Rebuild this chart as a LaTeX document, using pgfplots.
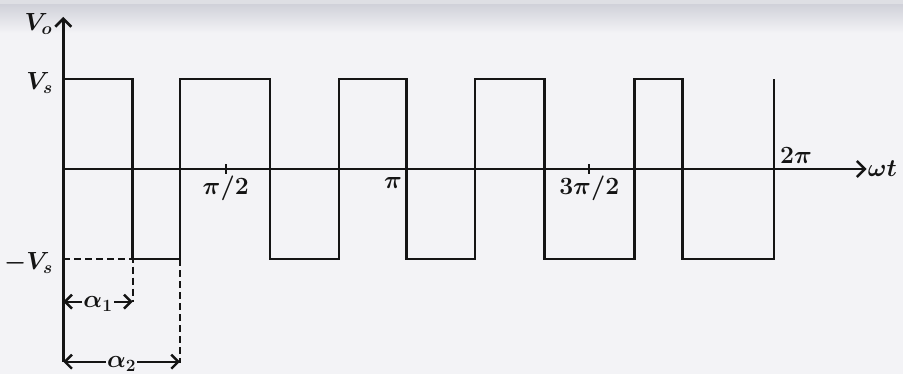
\documentclass[border=0pt]{standalone}
\usepackage{pgfplots}
\pgfplotsset{compat=1.18}
\usetikzlibrary{arrows.meta}
\definecolor{bg}{RGB}{243,243,246}
\definecolor{band}{RGB}{208,209,217}
\definecolor{ink}{RGB}{20,20,20}
\begin{document}
\begin{tikzpicture}[font=\fontsize{25}{29}\selectfont\boldmath]
\path[use as bounding box, fill=bg] (-63.3bp,-205bp) rectangle (839.7bp,169bp);
\shade[top color=band, bottom color=bg] (-63.3bp,136bp) rectangle (839.7bp,165bp);
\fill[band!60!bg] (-63.3bp,165bp) rectangle (839.7bp,169bp);
\begin{axis}[
  at={(0,0)}, anchor=origin,
  x=113.11bp, y=90bp,
  xmin=0, xmax=7.103, ymin=-2.144, ymax=1.69,
  axis lines=middle,
  axis line style={ink, line width=2.6pt, -{Straight Barb[length=8bp,width=16bp,line width=2.6pt]}},
  clip=false,
  xtick={1.436,4.650}, xticklabels={$\pi/2$,$3\pi/2$},
  ytick={1,-1}, yticklabels={$V_s$,$-V_s$},
  major tick length=10bp, tick align=center,
  xtick style={ink, line width=1.8pt},
  ytick style={draw=none},
  tick label style={font=\fontsize{25}{29}\selectfont\boldmath, text=ink},
  xticklabel style={anchor=north, yshift=2bp},
  yticklabel style={anchor=east, xshift=-2bp, yshift=-4bp},
]
\addplot[ink, line width=2.6pt, mark=none] coordinates {
 (0,1) (0.6136,1) (0.6136,-1) (1.0317,-1) (1.0317,1) (1.8274,1) (1.8274,-1)
 (2.4374,-1) (2.4374,1) (3.0360,1) (3.0360,-1) (3.6399,-1) (3.6399,1)
 (4.2525,1) (4.2525,-1) (5.0482,-1) (5.0482,1) (5.4761,1) (5.4761,-1)
 (6.2832,-1) (6.2832,1)
};
\addplot[ink, line width=2pt, dash pattern=on 7bp off 4bp, mark=none] coordinates {
 (0,-1) (0.6136,-1) (0.6136,-1.474)
};
\addplot[ink, line width=2pt, dash pattern=on 7bp off 4bp, mark=none] coordinates {
 (1.0317,-1) (1.0317,-2.15)
};
\addplot[ink, line width=2.3pt, mark=none, {Straight Barb[length=7bp,width=14bp,line width=2.4pt]}-{Straight Barb[length=7bp,width=14bp,line width=2.4pt]}] coordinates {
 (0,-1.474) (0.6136,-1.474)
} node[pos=0.5, fill=bg, inner sep=1pt, text=ink, yshift=-2bp] {$\alpha_1$};
\addplot[ink, line width=2.3pt, mark=none, {Straight Barb[length=7bp,width=14bp,line width=2.4pt]}-{Straight Barb[length=7bp,width=14bp,line width=2.4pt]}] coordinates {
 (0,-2.141) (1.0317,-2.141)
} node[pos=0.5, fill=bg, inner sep=1pt, text=ink, yshift=-2bp] {$\alpha_2$};
\node[anchor=north, text=ink, inner sep=1pt] at (axis cs:2.915,-0.08) {$\pi$};
\node[anchor=south west, text=ink, inner sep=1pt, xshift=5bp] at (axis cs:6.2832,0.05) {$2\pi$};
\node[anchor=west, text=ink, inner sep=1pt] at (axis cs:7.103,0) {$\omega t$};
\node[anchor=east, text=ink, inner sep=1pt, xshift=-10bp] at (axis cs:0,1.611) {$V_o$};
\end{axis}
\end{tikzpicture}
\end{document}
